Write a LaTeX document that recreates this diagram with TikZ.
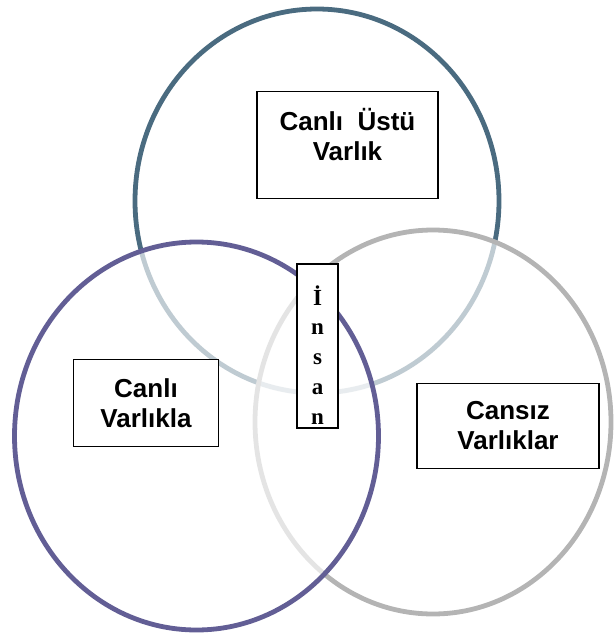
\documentclass[tikz,border=0pt]{standalone}
\usepackage{fontspec}
\setmainfont{Liberation Sans}
\newfontfamily\insanfont{Liberation Serif}
\usepackage{xcolor}
\definecolor{ringtop}{RGB}{74, 107, 128}
\definecolor{ringleft}{RGB}{98, 94, 149}
\definecolor{ringright}{RGB}{180, 180, 180}
\usetikzlibrary{positioning}

\begin{document}
\begin{tikzpicture}[x=1pt, y=-1pt,
    ring/.style={line width=4.8pt, fill=white, fill opacity=0.65, draw opacity=1},
    labelbox/.style={draw, fill=white, line width=1.3pt, align=center,
        font=\bfseries\fontsize{26}{30}\selectfont, inner sep=0pt}]
    \useasboundingbox (0,0) rectangle (616,635);

    % Three rings
    \draw[ring, draw=ringtop] (317,201) ellipse [x radius=182pt, y radius=192pt];
    \draw[ring, draw=ringright] (433,422) ellipse [x radius=178pt, y radius=192pt];
    \draw[ring, draw=ringleft] (196.5,436) ellipse [x radius=182pt, y radius=194pt];

    % Boxes
    \node[labelbox, minimum width=181pt, minimum height=107pt] (ustu) at (347.5,145) {Canl\i{}\ \ Üstü\\Varl\i{}k\\[-9pt]};
    \node[labelbox, minimum width=145pt, minimum height=87pt] (canli) at (146,403) {Canl\i\\Varl\i{}kla};
    \node[labelbox, minimum width=182pt, minimum height=85pt] (cansiz) at (508,426) {Cans\i{}z\\Varl\i{}klar};

    % Vertical "Insan" box
    \node[labelbox, minimum width=41pt, minimum height=164pt] (insan) at (317.5,346) {};
    \begin{scope}
        \clip (insan.north west) rectangle (insan.south east);
        \foreach \ch [count=\i] in {İ,n,s,a,n}
            \node[font=\insanfont\bfseries\fontsize{23}{23}\selectfont, anchor=base]
                (ch\i) at (317.5, 275.5+29.7*\i) {\ch};
    \end{scope}
    \draw[line width=1.3pt] (insan.north west) rectangle (insan.south east);
\end{tikzpicture}
\end{document}
